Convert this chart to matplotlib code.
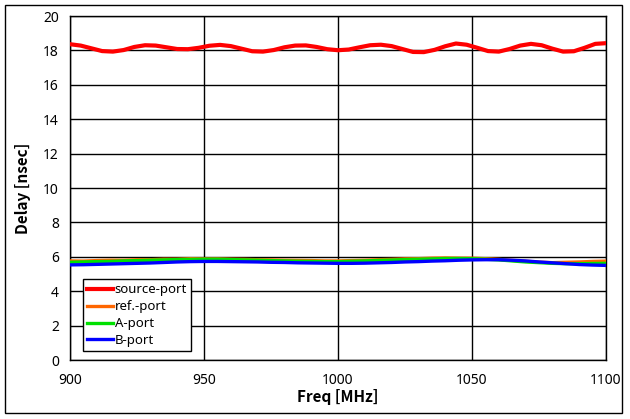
import matplotlib
matplotlib.use("Agg")
import matplotlib.pyplot as plt
from matplotlib.patches import Rectangle

plt.rcParams['font.family'] = ['Noto Sans', 'DejaVu Sans']

# Source-port (red), sampled every 4 MHz
freq_src = [900, 904, 908, 912, 916, 920, 924, 928, 932, 936, 940, 944, 948, 952,
            956, 960, 964, 968, 972, 976, 980, 984, 988, 992, 996, 1000, 1004, 1008,
            1012, 1016, 1020, 1024, 1028, 1032, 1036, 1040, 1044, 1048, 1052, 1056,
            1060, 1064, 1068, 1072, 1076, 1080, 1084, 1088, 1092, 1096, 1100]
source_port = [18.36, 18.28, 18.12, 17.96, 17.93, 18.02, 18.20, 18.30, 18.28, 18.18,
               18.08, 18.07, 18.15, 18.27, 18.32, 18.25, 18.10, 17.95, 17.93, 18.02,
               18.18, 18.28, 18.29, 18.20, 18.07, 18.01, 18.05, 18.18, 18.30, 18.33,
               18.25, 18.08, 17.91, 17.90, 18.03, 18.24, 18.40, 18.33, 18.15, 17.96,
               17.93, 18.08, 18.28, 18.38, 18.30, 18.10, 17.93, 17.95, 18.15, 18.38, 18.42]

# Other ports, sampled every 5 MHz
freq_low = [900, 905, 910, 915, 920, 925, 930, 935, 940, 945, 950, 955, 960, 965, 970,
            975, 980, 985, 990, 995, 1000, 1005, 1010, 1015, 1020, 1025, 1030, 1035,
            1040, 1045, 1050, 1055, 1060, 1065, 1070, 1075, 1080, 1085, 1090, 1095, 1100]
ref_port = [5.76, 5.75, 5.78, 5.80, 5.80, 5.83, 5.83, 5.86, 5.86, 5.89, 5.88, 5.88,
            5.86, 5.85, 5.83, 5.82, 5.80, 5.79, 5.78, 5.76, 5.76, 5.78, 5.80, 5.83,
            5.85, 5.88, 5.89, 5.92, 5.93, 5.92, 5.92, 5.89, 5.85, 5.79, 5.74, 5.69,
            5.66, 5.68, 5.70, 5.73, 5.75]
a_port = [5.68, 5.70, 5.72, 5.73, 5.76, 5.78, 5.80, 5.82, 5.84, 5.85, 5.86, 5.86,
          5.84, 5.82, 5.80, 5.78, 5.76, 5.74, 5.73, 5.72, 5.72, 5.74, 5.76, 5.79,
          5.81, 5.84, 5.86, 5.88, 5.90, 5.90, 5.89, 5.86, 5.82, 5.76, 5.70, 5.66,
          5.62, 5.60, 5.60, 5.61, 5.62]
b_port = [5.53, 5.54, 5.56, 5.58, 5.60, 5.62, 5.64, 5.67, 5.70, 5.72, 5.73, 5.73,
          5.72, 5.71, 5.70, 5.68, 5.67, 5.65, 5.64, 5.63, 5.62, 5.62, 5.63, 5.65,
          5.67, 5.70, 5.72, 5.75, 5.77, 5.80, 5.82, 5.83, 5.83, 5.80, 5.76, 5.70,
          5.65, 5.60, 5.55, 5.52, 5.50]

x_ticks = [900, 950, 1000, 1050, 1100]
y_ticks = [0, 2, 4, 6, 8, 10, 12, 14, 16, 18, 20]

fig = plt.figure(figsize=(6.3, 4.19), dpi=100)
fig.patches.append(Rectangle((5/630, 6/419), 617/630, 408/419, transform=fig.transFigure,
                             fill=False, edgecolor='black', linewidth=1.0))
ax = fig.add_axes([70/630, 59/419, 536/630, 344/419])

ax.plot(freq_src, source_port, color='#ff0000', lw=3.0, label='source-port', zorder=5)
ax.plot(freq_low, ref_port, color='#ff6600', lw=2.4, label='ref.-port', zorder=3)
ax.plot(freq_low, a_port, color='#00e000', lw=2.4, label='A-port', zorder=4)
ax.plot(freq_low, b_port, color='#0000ff', lw=2.4, label='B-port', zorder=5)

ax.set_xlim(900, 1100)
ax.set_ylim(0, 20)
ax.set_xticks(x_ticks)
ax.set_yticks(y_ticks)
ax.grid(True, color='black', linewidth=1.0)
ax.set_axisbelow(True)
for s in ax.spines.values():
    s.set_linewidth(1.0)
ax.tick_params(length=0, labelsize=10, pad=8)
ax.tick_params(axis='x', pad=9)
bold_family = ['Noto Sans CJK KR', 'DejaVu Sans']
ax.set_xlabel('Freq [MHz]', fontsize=11, fontweight='bold', family=bold_family, labelpad=1)
ax.set_ylabel('Delay [nsec]', fontsize=11, fontweight='bold', family=bold_family, labelpad=9)

leg = ax.legend(loc='lower left', bbox_to_anchor=(0.024, 0.026), borderaxespad=0,
                fancybox=False, edgecolor='black', framealpha=1, fontsize=9.5,
                handlelength=1.95, handletextpad=0.15, labelspacing=0.3,
                borderpad=0.3)
leg.get_frame().set_linewidth(1.0)

fig.savefig('out.png', dpi=100)
